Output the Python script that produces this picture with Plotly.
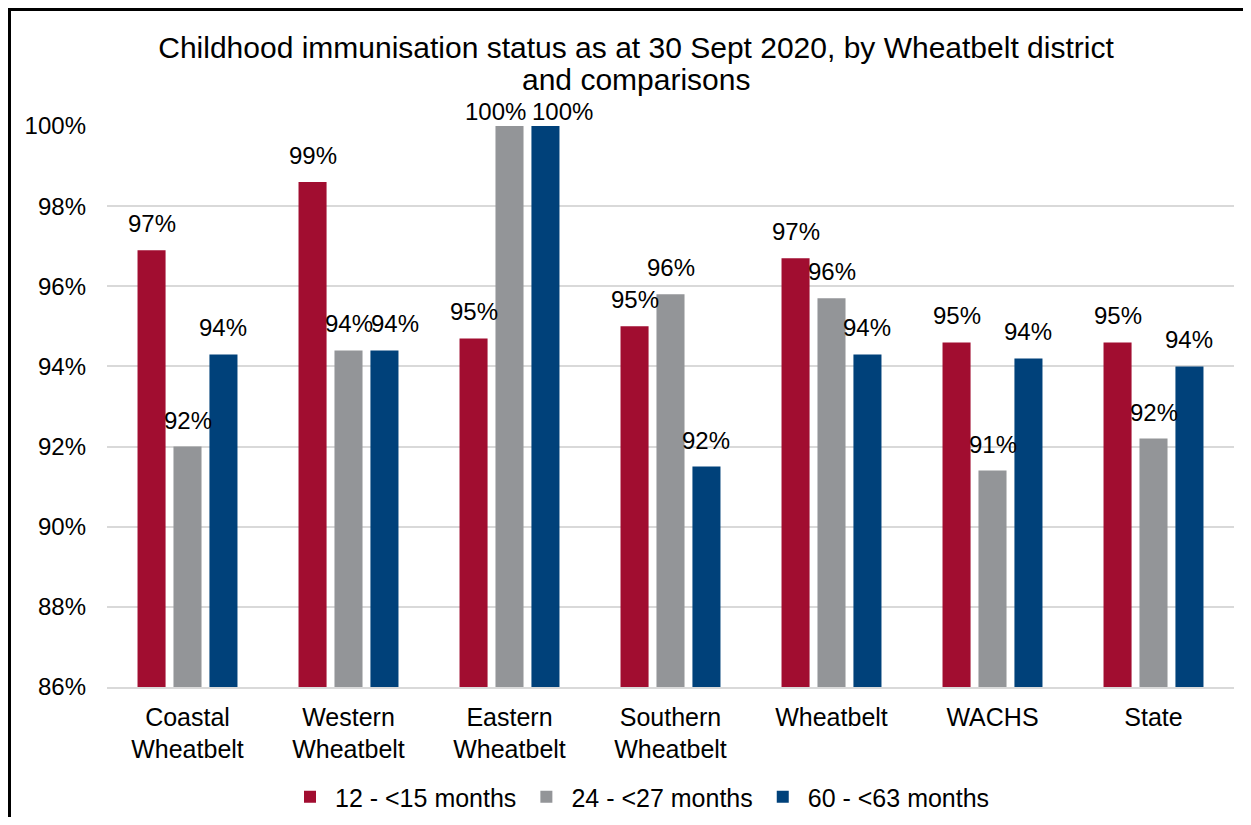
import plotly.graph_objects as go

categories = ["Coastal<br>Wheatbelt", "Western<br>Wheatbelt", "Eastern<br>Wheatbelt",
              "Southern<br>Wheatbelt", "Wheatbelt", "WACHS", "State"]
series_names = ["12 - <15 months", "24 - <27 months", "60 - <63 months"]
vals_12_15 = [0.969, 0.986, 0.947, 0.950, 0.967, 0.946, 0.946]
vals_24_27 = [0.920, 0.944, 1.000, 0.958, 0.957, 0.914, 0.922]
vals_60_63 = [0.943, 0.944, 1.000, 0.915, 0.943, 0.942, 0.940]
colors = ["#A10D30", "#939598", "#00417A"]
ytick_vals = [0.86, 0.88, 0.90, 0.92, 0.94, 0.96, 0.98, 1.00]
title_line1 = "Childhood immunisation status as at 30 Sept 2020, by Wheatbelt district"
title_line2 = "and comparisons"

FONT = "Arial, Liberation Sans, sans-serif"

# page body has an 8px margin; figure is placed at (8, 8)
OFF = 8
W, H = 1251 - 2 * OFF, 825 - 2 * OFF
PL, PT, PR, PB = 107, 126, 1234, 687   # plot area in page pixels
L, T = PL - OFF, PT - OFF
R = (OFF + W) - PR
B = (OFF + H) - PB
pw, ph = PR - PL, PB - PT

def px(x):
    return (x - PL) / pw

def py(y):
    return (PB - y) / ph

BARGAP = 0.33
cat_w = pw / len(categories)
slot_w = cat_w * (1 - BARGAP) / 3
bar_offsets = [-slot_w, 0, slot_w]
# label nudges (like the original's de-overlapped labels): (series, category) -> (dx, dy) px
nudges = {(1, 2): (-14, -12), (2, 2): (17, -12), (2, 1): (11, 0)}

fig = go.Figure()
annotations = []
all_vals = [vals_12_15, vals_24_27, vals_60_63]
for si, (name, vals, col) in enumerate(zip(series_names, all_vals, colors)):
    fig.add_trace(go.Bar(
        x=categories, y=vals, name=name, marker=dict(color=col, line=dict(width=0)),
        hoverinfo="x+y+name",
    ))
    for ci, (cat, v) in enumerate(zip(categories, vals)):
        dx, dy = nudges.get((si, ci), (0, 0))
        annotations.append(dict(
            x=cat, y=v, xref="x", yref="y", text=f"{round(v * 100):.0f}%",
            showarrow=False, xanchor="center", yanchor="bottom",
            xshift=bar_offsets[si] + dx, yshift=11 + dy,
            font=dict(family=FONT, size=24, color="#000000"),
        ))

annotations.append(dict(
    x=px(636), y=py(80), xref="paper", yref="paper", text=title_line2,
    showarrow=False, xanchor="center", yanchor="middle",
    font=dict(family=FONT, size=30, color="#000000"),
))

fig.update_layout(
    width=W, height=H,
    margin=dict(l=L, r=R, t=T, b=B),
    paper_bgcolor="white", plot_bgcolor="white",
    font=dict(family=FONT, size=24, color="#000000"),
    title=dict(text=title_line1,
               x=px(636), xref="paper", xanchor="center",
               y=1 - (47 - OFF) / H, yref="container", yanchor="middle",
               font=dict(family=FONT, size=30, color="#000000")),
    barmode="group", bargap=BARGAP, bargroupgap=0.22,
    showlegend=True,
    legend=dict(orientation="h", x=px(640), xanchor="center",
                y=1 - (797 - OFF) / H, yref="container", yanchor="middle",
                font=dict(family=FONT, size=25, color="#000000"),
                traceorder="normal", itemwidth=40),
    annotations=annotations,
    shapes=[
        dict(type="line", xref="paper", yref="paper", x0=px(OFF), x1=px(1260), y0=py(OFF + 1.5), y1=py(OFF + 1.5),
             line=dict(color="black", width=3)),
        dict(type="line", xref="paper", yref="paper", x0=px(OFF + 1.5), x1=px(OFF + 1.5), y0=py(OFF), y1=py(840),
             line=dict(color="black", width=3)),
    ],
)
fig.update_yaxes(range=[0.86, 1.0], tickvals=ytick_vals, tickformat=".0%",
                 showgrid=True, gridcolor="#D9D9D9", gridwidth=1.5, zeroline=False,
                 showline=False, ticks="", ticklabelstandoff=20,
                 tickfont=dict(family=FONT, size=24, color="#000000"))
fig.update_xaxes(showline=True, linecolor="#D9D9D9", linewidth=1.5, ticks="",
                 ticklabelstandoff=7,
                 tickfont=dict(family=FONT, size=25, color="#000000"))

fig.write_html("out.html")
